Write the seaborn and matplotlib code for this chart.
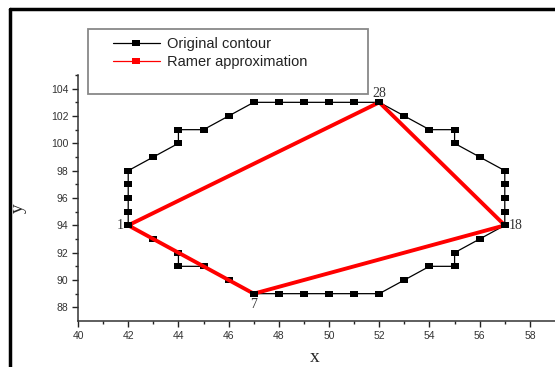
import matplotlib
matplotlib.use("Agg")
import matplotlib.pyplot as plt
import seaborn as sns
import pandas as pd
from matplotlib.lines import Line2D
from matplotlib.patches import Rectangle

# ---- data ----
contour_x = [42, 43, 44, 44, 45, 46, 47, 48, 49, 50, 51, 52, 53, 54, 55, 55, 56, 57,
             57, 57, 57, 57, 56, 55, 55, 54, 53, 52, 51, 50, 49, 48, 47, 46, 45, 44,
             44, 43, 42, 42, 42, 42, 42]
contour_y = [94, 93, 92, 91, 91, 90, 89, 89, 89, 89, 89, 89, 90, 91, 91, 92, 93, 94,
             95, 96, 97, 98, 99, 100, 101, 101, 102, 103, 103, 103, 103, 103, 103, 102, 101, 101,
             100, 99, 98, 97, 96, 95, 94]
ramer_x = [42, 52, 57, 47, 42]
ramer_y = [94, 103, 94, 89, 94]
point_labels = ["1", "28", "18", "7"]
point_idx = [0, 27, 17, 6]
x_ticks = [40, 42, 44, 46, 48, 50, 52, 54, 56, 58]
y_ticks = [88, 90, 92, 94, 96, 98, 100, 102, 104]

sns.set_style("ticks")
plt.rcParams['font.family'] = ['Liberation Sans', 'DejaVu Sans']

W, H = 555, 367
fig = plt.figure(figsize=(W / 100, H / 100), dpi=100)
ax = fig.add_axes([78 / W, 46 / H, 1 - 78 / W, (321 - 75) / H])

df_c = pd.DataFrame({"x": contour_x, "y": contour_y})
df_r = pd.DataFrame({"x": ramer_x, "y": ramer_y})

rect = [(-1.5, -1), (1.5, -1), (1.5, 1), (-1.5, 1), (-1.5, -1)]

sns.lineplot(data=df_c, x="x", y="y", sort=False, estimator=None, ax=ax,
             color="black", linewidth=0.9, marker=rect, markersize=6.2,
             markeredgewidth=0, markerfacecolor="black", zorder=2)
sns.lineplot(data=df_r, x="x", y="y", sort=False, estimator=None, ax=ax,
             color="#ff0000", linewidth=2.8, zorder=3)
# black vertex markers drawn over the red line where the approximation touches the contour
ax.plot([contour_x[i] for i in point_idx], [contour_y[i] for i in point_idx],
        linestyle="none", marker=rect, markersize=6.2, markeredgewidth=0,
        color="black", zorder=4)

ax.set_xlim(40, 59)
ax.set_ylim(87, 105)
ax.set_xticks(x_ticks)
ax.set_yticks(y_ticks)
ax.set_xticks([41, 43, 45, 47, 49, 51, 53, 55, 57], minor=True)
ax.set_yticks([89, 91, 93, 95, 97, 99, 101, 103, 105], minor=True)
ax.tick_params(which="major", direction="out", length=4, width=1, color="#222222",
               labelsize=7.5, labelcolor="#333333", pad=3)
ax.tick_params(which="minor", direction="out", length=2.5, width=1, color="#222222")
for s in ["top", "right"]:
    ax.spines[s].set_visible(False)
for s in ["left", "bottom"]:
    ax.spines[s].set_color("#333333")
    ax.spines[s].set_linewidth(1.1)
ax.set_xlabel("")
ax.set_ylabel("")

# point annotations
serif = ['Liberation Serif', 'DejaVu Serif']
ax.annotate("1", (42, 94), xytext=(-3, 0), textcoords="offset points", ha="right",
            va="center", fontsize=10, family=serif, color="#333333")
ax.annotate("28", (52, 103), xytext=(0, 2), textcoords="offset points", ha="center",
            va="bottom", fontsize=10, family=serif, color="#333333")
ax.annotate("18", (57, 94), xytext=(3, 0), textcoords="offset points", ha="left",
            va="center", fontsize=10, family=serif, color="#333333")
ax.annotate("7", (47, 89), xytext=(0, -3), textcoords="offset points", ha="center",
            va="top", fontsize=10, family=serif, color="#333333")

# axis labels
fig.text(315 / W, 1 - 357 / H, "x", ha="center", va="center", fontsize=14, family=serif)
fig.text(18 / W, 1 - 208 / H, "y", ha="center", va="center", fontsize=14, family=serif,
         rotation=90)

# legend box
fig.add_artist(Rectangle((88 / W, 1 - 94 / H), (368 - 88) / W, (94 - 29) / H,
                         transform=fig.transFigure, fill=False, edgecolor="#888888",
                         linewidth=1.3, zorder=5))
handles = [
    Line2D([], [], color="black", linewidth=0.9, marker=rect, markersize=6.2,
           markeredgewidth=0, markerfacecolor="black"),
    Line2D([], [], color="#ff0000", linewidth=0.9, marker=rect, markersize=6.2,
           markeredgewidth=0, markerfacecolor="#ff0000"),
]
leg = fig.legend(handles, ["Original contour", "Ramer approximation"],
                 loc="upper left", bbox_to_anchor=(113 / W, 1 - 37 / H),
                 bbox_transform=fig.transFigure, frameon=False, borderpad=0,
                 borderaxespad=0, handlelength=3.2, handletextpad=0.5,
                 labelspacing=0.25, fontsize=10.5)
for t in leg.get_texts():
    t.set_color("#222222")

# outer frame (cropped)
fig.add_artist(Line2D([10 / W, 10 / W], [0, 1 - 9 / H], transform=fig.transFigure,
                      color="black", linewidth=2.5))
fig.add_artist(Line2D([10 / W, 1], [1 - 9 / H, 1 - 9 / H], transform=fig.transFigure,
                      color="black", linewidth=2.5))

fig.savefig("out.png", dpi=100)
